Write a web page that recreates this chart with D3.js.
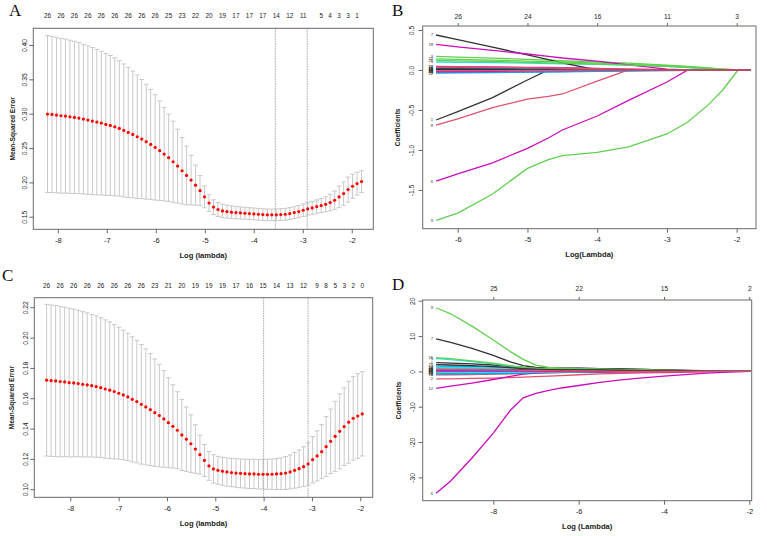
<!DOCTYPE html>
<html lang="en">
<head>
<meta charset="utf-8">
<title>LASSO cv and coefficient paths</title>
<script src="https://cdn.jsdelivr.net/npm/d3@7"></script>
<style>html,body{margin:0;background:#fff;}</style>
</head>
<body>
<script>
// ---- panel A : cv curve (lambda path has 71 log-spaced values) ----
var aLamStart = -8.21, aLamEnd = -1.80;
var aMse = [0.2994,0.2989,0.2980,0.2970,0.2965,0.2955,0.2946,0.2936,0.2921,0.2907,
  0.2892,0.2878,0.2863,0.2843,0.2829,0.2809,0.2785,0.2756,0.2727,0.2698,
  0.2664,0.2630,0.2592,0.2553,0.2509,0.2461,0.2412,0.2359,0.2300,0.2237,
  0.2169,0.2101,0.2033,0.1960,0.1880,0.1790,0.1700,0.1640,0.1605,0.1585,
  0.1575,0.1566,0.1560,0.1555,0.1551,0.1546,0.1541,0.1536,0.1531,0.1527,
  0.1527,0.1527,0.1531,0.1536,0.1546,0.1560,0.1575,0.1594,0.1614,0.1628,
  0.1648,0.1662,0.1681,0.1706,0.1740,0.1789,0.1837,0.1895,0.1944,0.1983,0.2012];
var aSe = [0.1142,0.1137,0.1132,0.1126,0.1121,0.1115,0.1107,0.1098,0.1089,0.1080,
  0.1071,0.1058,0.1046,0.1033,0.1018,0.1003,0.0986,0.0968,0.0946,0.0922,
  0.0899,0.0868,0.0836,0.0801,0.0766,0.0724,0.0681,0.0636,0.0591,0.0538,
  0.0484,0.0428,0.0360,0.0292,0.0218,0.0160,0.0120,0.0107,0.0102,0.0097,
  0.0094,0.0092,0.0090,0.0088,0.0087,0.0086,0.0086,0.0085,0.0085,0.0085,
  0.0085,0.0085,0.0085,0.0085,0.0086,0.0086,0.0088,0.0090,0.0091,0.0094,
  0.0097,0.0102,0.0109,0.0121,0.0134,0.0158,0.0170,0.0182,0.0175,0.0165,0.0158];
var aTopIdx = [0,3,6,9,12,15,18,21,24,27,30,33,36,39,42,45,48,51,54,57,61,63,65,67,69];
var aTopLab = [26,26,26,26,26,26,26,26,26,25,23,22,20,19,17,17,17,14,12,11,5,4,3,3,1];
var aVlines = [-3.56, -2.91];
var aXTicks = [-8,-7,-6,-5,-4,-3,-2];
var aYTicks = [0.15,0.20,0.25,0.30,0.35,0.40];

// ---- panel C : cv curve ----
var cLamStart = -8.49, cLamEnd = -1.96;
var cMse = [0.1719,0.1716,0.1714,0.1710,0.1708,0.1703,0.1701,0.1697,0.1692,0.1688,
  0.1683,0.1677,0.1670,0.1661,0.1653,0.1644,0.1633,0.1622,0.1609,0.1593,
  0.1578,0.1560,0.1543,0.1525,0.1505,0.1486,0.1464,0.1439,0.1415,0.1389,
  0.1358,0.1330,0.1300,0.1265,0.1228,0.1190,0.1154,0.1134,0.1125,0.1119,
  0.1114,0.1110,0.1107,0.1105,0.1103,0.1101,0.1101,0.1099,0.1099,0.1099,
  0.1099,0.1101,0.1103,0.1107,0.1114,0.1125,0.1136,0.1149,0.1167,0.1195,
  0.1220,0.1248,0.1281,0.1316,0.1349,0.1382,0.1413,0.1442,0.1468,0.1483,0.1497];
var cSe = [0.0500,0.0499,0.0498,0.0496,0.0493,0.0490,0.0487,0.0483,0.0479,0.0475,
  0.0470,0.0466,0.0461,0.0456,0.0450,0.0443,0.0435,0.0427,0.0420,0.0412,
  0.0404,0.0394,0.0382,0.0369,0.0354,0.0338,0.0318,0.0296,0.0274,0.0254,
  0.0234,0.0212,0.0190,0.0160,0.0128,0.0105,0.0095,0.0093,0.0092,0.0092,
  0.0093,0.0093,0.0094,0.0095,0.0095,0.0096,0.0097,0.0097,0.0098,0.0099,
  0.0100,0.0102,0.0104,0.0108,0.0112,0.0118,0.0123,0.0131,0.0140,0.0153,
  0.0165,0.0178,0.0198,0.0213,0.0231,0.0247,0.0256,0.0270,0.0276,0.0279,0.0278];
var cTopIdx = [0,3,6,9,12,15,18,21,24,27,30,33,36,39,42,45,48,51,54,57,60,62,64,66,68,70];
var cTopLab = [26,26,26,26,26,26,26,26,23,21,20,19,19,19,17,16,15,14,13,12,9,8,5,3,2,0];
var cVlines = [-4.0, -3.08];
var cXTicks = [-8,-7,-6,-5,-4,-3,-2];
var cYTicks = [0.10,0.12,0.14,0.16,0.18,0.20,0.22];

// ---- panel B : coefficient paths (26 variables) ----
var bLogLambda = [-6.31,-6.0,-5.5,-5.0,-4.7,-4.5,-4.0,-3.55,-3.0,-2.7,-2.4,-2.2,-1.98,-1.8];
var bCoef = [
  [-0.625,-0.52,-0.345,-0.125,0,0,0,0,0,0,0,0,0,0],
  [0.03,0.028,0.024,0.019,0.015,0.012,0.004,0,0,0,0,0,0,0],
  [0.17,0.162,0.148,0.133,0.124,0.118,0.10,0.085,0.06,0.045,0.025,0.012,0,0],
  [-0.03,-0.029,-0.027,-0.025,-0.023,-0.022,-0.018,-0.014,-0.008,-0.004,0,0,0,0],
  [0.10,0.097,0.091,0.085,0.081,0.078,0.07,0.06,0.045,0.03,0.012,0,0,0],
  [-1.39,-1.30,-1.16,-0.98,-0.85,-0.75,-0.575,-0.38,-0.15,0,0,0,0,0],
  [0.4375,0.38,0.285,0.19,0.13,0.09,0,0,0,0,0,0,0,0],
  [-0.69,-0.61,-0.47,-0.365,-0.33,-0.30,-0.14,0,0,0,0,0,0,0],
  [-1.88,-1.79,-1.55,-1.23,-1.12,-1.07,-1.03,-0.96,-0.80,-0.65,-0.43,-0.25,0,0],
  [0.02,0.019,0.017,0.015,0.013,0.012,0.008,0.004,0,0,0,0,0,0],
  [-0.02,-0.018,-0.015,-0.011,-0.008,-0.006,0,0,0,0,0,0,0,0],
  [0.045,0.043,0.039,0.034,0.031,0.028,0.02,0.012,0.003,0,0,0,0,0],
  [-0.01,-0.009,-0.007,-0.004,-0.002,0,0,0,0,0,0,0,0,0],
  [-0.005,-0.004,-0.003,-0.001,0,0,0,0,0,0,0,0,0,0],
  [0.14,0.134,0.123,0.112,0.105,0.10,0.085,0.072,0.05,0.038,0.022,0.01,0,0],
  [0.005,0.005,0.004,0.003,0.002,0.001,0,0,0,0,0,0,0,0],
  [0.012,0.011,0.009,0.007,0.005,0.004,0.001,0,0,0,0,0,0,0],
  [0.32,0.29,0.245,0.20,0.17,0.15,0.11,0.065,0.01,0,0,0,0,0],
  [0.008,0.007,0.005,0.003,0.001,0,0,0,0,0,0,0,0,0],
  [0.04,0.038,0.034,0.03,0.027,0.025,0.018,0.01,0.002,0,0,0,0,0],
  [0.12,0.115,0.106,0.096,0.09,0.086,0.074,0.062,0.045,0.034,0.02,0.008,0,0],
  [-0.04,-0.037,-0.032,-0.026,-0.022,-0.02,-0.012,-0.006,0,0,0,0,0,0],
  [-0.015,-0.014,-0.012,-0.009,-0.007,-0.005,0,0,0,0,0,0,0,0],
  [-0.02,-0.019,-0.016,-0.012,-0.009,-0.007,-0.002,0,0,0,0,0,0,0],
  [0.015,0.014,0.012,0.009,0.007,0.005,0.001,0,0,0,0,0,0,0],
  [-0.012,-0.011,-0.009,-0.006,-0.004,-0.003,0,0,0,0,0,0,0,0]
];
var bXTicks = [-6,-5,-4,-3,-2];
var bTopLab = [26,24,16,11,3];
var bYTicks = [-1.5,-1.0,-0.5,0.0,0.5];

// ---- panel D : coefficient paths ----
var dLogLambda = [-9.34,-9.0,-8.5,-8.0,-7.6,-7.3,-7.0,-6.7,-6.4,-6.0,-5.5,-5.0,-4.5,-4.0,-3.5,-3.0,-2.5,-1.97];
var dCoef = [
  [2.5,2.35,2.1,1.8,1.4,1.1,0.95,0.9,0.87,0.82,0.75,0.65,0.55,0.42,0.3,0.18,0.08,0],
  [-2.15,-2.1,-2.0,-1.9,-1.75,-1.6,-1.5,-1.35,-1.2,-0.95,-0.7,-0.55,-0.45,-0.35,-0.25,-0.15,-0.06,0],
  [0.6,0.58,0.54,0.5,0.45,0.4,0.35,0.3,0.25,0.2,0.14,0.08,0.03,0,0,0,0,0],
  [1.5,1.45,1.35,1.2,1.0,0.8,0.6,0.45,0.35,0.25,0.15,0.08,0.02,0,0,0,0,0],
  [3.6,3.35,2.8,2.1,1.5,1.05,0.8,0.65,0.55,0.45,0.35,0.25,0.17,0.1,0.05,0.01,0,0],
  [-34.5,-31.0,-24.5,-17.5,-11.0,-7.5,-6.2,-5.4,-4.7,-4.0,-3.1,-2.4,-1.85,-1.35,-0.9,-0.5,-0.2,0],
  [9.2,8.2,6.5,4.5,2.7,1.6,1.1,0.95,0.92,0.88,0.8,0.7,0.55,0.4,0.28,0.15,0.06,0],
  [-1.0,-0.95,-0.88,-0.8,-0.7,-0.6,-0.5,-0.4,-0.32,-0.24,-0.16,-0.1,-0.05,-0.02,0,0,0,0],
  [18.0,16.3,12.8,8.9,5.6,3.4,1.8,1.1,0.9,0.8,0.65,0.5,0.38,0.28,0.18,0.1,0.04,0],
  [1.0,0.96,0.9,0.82,0.72,0.62,0.52,0.44,0.38,0.3,0.22,0.15,0.09,0.04,0.01,0,0,0],
  [0.7,0.68,0.64,0.6,0.55,0.5,0.45,0.4,0.35,0.3,0.23,0.17,0.11,0.06,0.02,0,0,0],
  [-4.8,-4.2,-3.3,-2.3,-1.4,-0.8,-0.5,-0.35,-0.28,-0.22,-0.18,-0.14,-0.1,-0.07,-0.04,-0.02,0,0],
  [-0.5,-0.48,-0.45,-0.4,-0.34,-0.28,-0.22,-0.17,-0.13,-0.08,-0.03,0,0,0,0,0,0,0],
  [0.3,0.29,0.27,0.24,0.2,0.16,0.12,0.08,0.05,0.02,0,0,0,0,0,0,0,0],
  [3.9,3.6,3.0,2.3,1.6,1.1,0.9,0.8,0.75,0.7,0.6,0.5,0.4,0.3,0.2,0.12,0.05,0],
  [-0.8,-0.77,-0.72,-0.65,-0.56,-0.47,-0.38,-0.3,-0.23,-0.15,-0.07,-0.02,0,0,0,0,0,0],
  [1.2,1.15,1.05,0.92,0.78,0.65,0.55,0.47,0.41,0.34,0.26,0.19,0.12,0.06,0.02,0,0,0],
  [0.4,0.39,0.36,0.32,0.28,0.24,0.2,0.16,0.13,0.09,0.05,0.02,0,0,0,0,0,0],
  [0.5,0.5,0.5,0.5,0.5,0.48,0.45,0.42,0.4,0.37,0.33,0.28,0.23,0.17,0.12,0.07,0.03,0],
  [-0.3,-0.29,-0.27,-0.24,-0.2,-0.16,-0.12,-0.08,-0.05,-0.02,0,0,0,0,0,0,0,0],
  [-0.2,-0.19,-0.17,-0.15,-0.12,-0.1,-0.07,-0.05,-0.03,-0.01,0,0,0,0,0,0,0,0],
  [0.2,0.21,0.22,0.23,0.24,0.24,0.23,0.22,0.2,0.18,0.15,0.12,0.09,0.06,0.04,0.02,0.01,0],
  [-0.4,-0.38,-0.35,-0.3,-0.25,-0.2,-0.15,-0.11,-0.08,-0.05,-0.02,0,0,0,0,0,0,0],
  [0.1,0.1,0.09,0.08,0.07,0.06,0.05,0.04,0.03,0.02,0.01,0,0,0,0,0,0,0],
  [1.9,1.8,1.6,1.35,1.05,0.8,0.6,0.5,0.45,0.4,0.34,0.28,0.22,0.16,0.1,0.05,0.02,0],
  [0.6,0.58,0.54,0.48,0.41,0.34,0.27,0.21,0.16,0.1,0.05,0.01,0,0,0,0,0,0]
];
var dXTicks = [-8,-6,-4,-2];
var dTopLab = [25,22,15,2];
var dYTicks = [-30,-20,-10,0,10,20];

// R default palette, used in order by matplot
var pal = ["#333333","#DF536B","#61D04F","#2297E6","#28E2E5","#CD0BBC"];
var sans = "'Liberation Sans', Arial, Helvetica, sans-serif";

var svg = d3.select("body").append("svg")
    .attr("width", 767)
    .attr("height", 536)
    .style("font-family", sans);

// box, bottom and left axes, titles (R base graphics look)
function frame(g, o, x, y) {
  var b = o.box;
  var xa = g.append("g").attr("transform", "translate(0," + b[3] + ")")
    .call(d3.axisBottom(x).tickValues(o.xTicks).tickSize(4).tickSizeOuter(0)
      .tickFormat(function(d){ return String(d); }));
  xa.select(".domain").remove();
  xa.selectAll("line").attr("stroke", "#666");
  xa.selectAll("text").attr("y", 13.5).attr("dy", 0)
    .style("font-size", "7.5px").attr("fill", "#222");

  var ya = g.append("g").attr("transform", "translate(" + b[0] + ",0)")
    .call(d3.axisLeft(y).tickValues(o.yTicks).tickSize(4).tickSizeOuter(0).tickFormat(o.yFmt));
  ya.select(".domain").remove();
  ya.selectAll("line").attr("stroke", "#666");
  ya.selectAll("text").attr("transform", "rotate(-90)")
    .attr("x", 0).attr("y", -o.yLabOff).attr("dy", 0)
    .style("text-anchor", "middle").style("font-size", "6.8px").attr("fill", "#222");

  g.append("rect").attr("x", b[0]).attr("y", b[1])
    .attr("width", b[2] - b[0]).attr("height", b[3] - b[1])
    .attr("fill", "none").attr("stroke", "#6a6a6a").attr("stroke-width", 1);

  g.append("text").attr("x", (b[0] + b[2]) / 2).attr("y", b[3] + 28.5)
    .attr("text-anchor", "middle").style("font-size", "7.6px").style("font-weight", "bold")
    .attr("fill", "#222").text(o.xTitle);
  g.append("text").attr("transform", "translate(" + (b[0] - o.yTitleOff) + "," + ((b[1] + b[3]) / 2) + ") rotate(-90)")
    .attr("text-anchor", "middle").style("font-size", "6.6px").style("font-weight", "bold")
    .attr("fill", "#222").text(o.yTitle);

  g.append("text").attr("x", o.letter[1]).attr("y", o.letter[2])
    .style("font-family", "'Liberation Serif', 'Times New Roman', serif")
    .style("font-size", "17px").attr("fill", "#111").text(o.letter[0]);
}

function cvPanel(o) {
  var g = svg.append("g");
  var b = o.box;
  var x = d3.scaleLinear().domain(o.xDom).range([b[0], b[2]]);
  var y = d3.scaleLinear().domain(o.yDom).range([b[3], b[1]]);
  var n = o.mse.length;
  var lam = d3.range(n).map(function(i){ return o.lamStart + i * (o.lamEnd - o.lamStart) / (n - 1); });
  var pts = o.mse.map(function(m, i){ return {l: lam[i], m: m, up: m + o.se[i], lo: m - o.se[i]}; });
  var cw = 2.4;

  var bars = g.append("g").attr("stroke", "#c8c8c8").attr("stroke-width", 1);
  bars.selectAll("line.v").data(pts).join("line").attr("class", "v")
    .attr("x1", function(d){ return x(d.l); }).attr("x2", function(d){ return x(d.l); })
    .attr("y1", function(d){ return y(d.up); }).attr("y2", function(d){ return y(d.lo); });
  bars.selectAll("line.u").data(pts).join("line").attr("class", "u")
    .attr("x1", function(d){ return x(d.l) - cw; }).attr("x2", function(d){ return x(d.l) + cw; })
    .attr("y1", function(d){ return y(d.up); }).attr("y2", function(d){ return y(d.up); });
  bars.selectAll("line.w").data(pts).join("line").attr("class", "w")
    .attr("x1", function(d){ return x(d.l) - cw; }).attr("x2", function(d){ return x(d.l) + cw; })
    .attr("y1", function(d){ return y(d.lo); }).attr("y2", function(d){ return y(d.lo); });

  // lambda.min and lambda.1se (dotted, lty = 3)
  g.selectAll("line.vl").data(o.vlines).join("line").attr("class", "vl")
    .attr("x1", function(d){ return x(d); }).attr("x2", function(d){ return x(d); })
    .attr("y1", b[1]).attr("y2", b[3])
    .attr("stroke", "#a8a8a8").attr("stroke-width", 1).attr("stroke-dasharray", "1.5,1");

  g.selectAll("circle").data(pts).join("circle")
    .attr("cx", function(d){ return x(d.l); }).attr("cy", function(d){ return y(d.m); })
    .attr("r", 1.6).attr("fill", "#ff0000");

  frame(g, o, x, y);

  g.selectAll("text.nz").data(o.topIdx).join("text").attr("class", "nz")
    .attr("x", function(d){ return x(lam[d]); }).attr("y", o.topY)
    .attr("text-anchor", "middle").style("font-size", "6.4px").attr("fill", "#222")
    .text(function(d, i){ return o.topLab[i]; });
}

function pathPanel(o) {
  var g = svg.append("g");
  var b = o.box;
  var x = d3.scaleLinear().domain(o.xDom).range([b[0], b[2]]);
  var y = d3.scaleLinear().domain(o.yDom).range([b[3], b[1]]);
  var line = d3.line()
    .x(function(d, i){ return x(o.lam[i]); })
    .y(function(d){ return y(d); });

  g.selectAll("path.coef").data(o.coef).join("path").attr("class", "coef")
    .attr("d", line).attr("fill", "none")
    .attr("stroke", function(d, i){ return pal[i % 6]; })
    .attr("stroke-width", 1.3);

  // variable numbers at the left end of each path (cex = .5)
  g.selectAll("text.var").data(o.coef).join("text").attr("class", "var")
    .attr("x", x(o.lam[0]) - 3).attr("y", function(d){ return y(d[0]) + 1.5; })
    .attr("text-anchor", "end").style("font-size", "4.2px").attr("fill", "#333")
    .text(function(d, i){ return i + 1; });

  frame(g, o, x, y);

  var ta = g.append("g").attr("transform", "translate(0," + b[1] + ")")
    .call(d3.axisTop(x).tickValues(o.xTicks).tickSize(3).tickSizeOuter(0)
      .tickFormat(function(d, i){ return o.topLab[i]; }));
  ta.select(".domain").remove();
  ta.selectAll("line").attr("stroke", "#666");
  ta.selectAll("text").attr("y", o.topY - b[1]).attr("dy", 0)
    .style("font-size", "6.6px").attr("fill", "#222");
}

cvPanel({box: [33.3, 28.3, 373.3, 229.3], xDom: [-8.5, -1.56], yDom: [0.1317, 0.4243],
  lamStart: aLamStart, lamEnd: aLamEnd, mse: aMse, se: aSe, vlines: aVlines,
  topIdx: aTopIdx, topLab: aTopLab, topY: 18.2,
  xTicks: aXTicks, yTicks: aYTicks, yFmt: function(d){ return d.toFixed(2); },
  yLabOff: 6.5, yTitleOff: 18.5,
  xTitle: "Log (lambda)", yTitle: "Mean-Squared Error", letter: ["A", 9, 15.5]});

cvPanel({box: [34.3, 297.7, 372.7, 497.3], xDom: [-8.745, -1.743], yDom: [0.0947, 0.2263],
  lamStart: cLamStart, lamEnd: cLamEnd, mse: cMse, se: cSe, vlines: cVlines,
  topIdx: cTopIdx, topLab: cTopLab, topY: 287.5,
  xTicks: cXTicks, yTicks: cYTicks, yFmt: function(d){ return d.toFixed(2); },
  yLabOff: 6.5, yTitleOff: 20,
  xTitle: "Log (lambda)", yTitle: "Mean-Squared Error", letter: ["C", 2, 281]});

pathPanel({box: [422.7, 26, 756, 228.7], xDom: [-6.502, -1.723], yDom: [-1.984, 0.55],
  lam: bLogLambda, coef: bCoef, topLab: bTopLab, topY: 18.5,
  xTicks: bXTicks, yTicks: bYTicks, yFmt: function(d){ return d.toFixed(1); },
  yLabOff: 8.5, yTitleOff: 23,
  xTitle: "Log(Lambda)", yTitle: "Coefficients", letter: ["B", 392, 15.5]});

pathPanel({box: [422.7, 300, 751.7, 500.7], xDom: [-9.655, -1.944], yDom: [-36.6, 20.2],
  lam: dLogLambda, coef: dCoef, topLab: dTopLab, topY: 291,
  xTicks: dXTicks, yTicks: dYTicks, yFmt: function(d){ return String(d); },
  yLabOff: 8, yTitleOff: 22,
  xTitle: "Log (Lambda)", yTitle: "Coefficients", letter: ["D", 392, 290]});
</script>
</body>
</html>
